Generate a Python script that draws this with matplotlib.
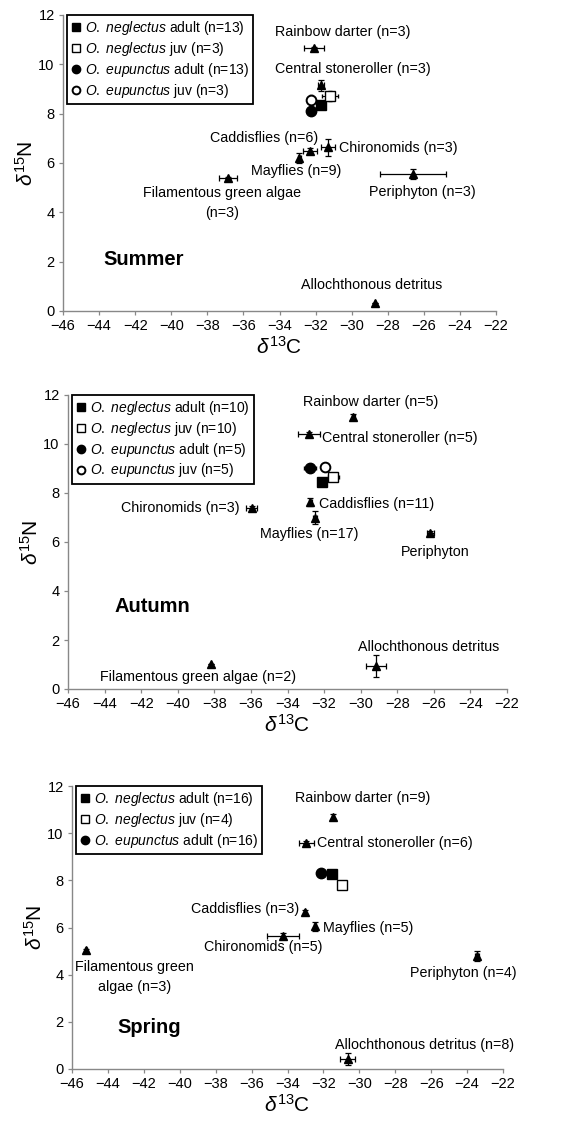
import matplotlib
matplotlib.use('Agg')
import matplotlib.pyplot as plt

plt.rcParams['font.family'] = ['Liberation Sans', 'DejaVu Sans']
plt.rcParams['mathtext.fontset'] = 'custom'
plt.rcParams['mathtext.rm'] = 'Liberation Sans'
plt.rcParams['mathtext.it'] = 'Liberation Sans:italic'

# prey / source items (delta13C, delta15N, errors)
summer_names = ['Rainbow darter', 'Central stoneroller', 'Caddisflies', 'Mayflies',
                'Chironomids', 'Filamentous green algae', 'Periphyton', 'Allochthonous detritus']
summer_x = [-32.1, -31.7, -32.3, -32.9, -31.3, -36.85, -26.6, -28.7]
summer_y = [10.65, 9.15, 6.5, 6.22, 6.63, 5.4, 5.55, 0.32]
summer_xerr = [0.55, 0.15, 0.4, 0.1, 0.4, 0.5, 1.85, 0.0]
summer_yerr = [0.05, 0.22, 0.1, 0.2, 0.35, 0.05, 0.2, 0.0]

autumn_names = ['Rainbow darter', 'Central stoneroller', 'Caddisflies', 'Mayflies',
                'Chironomids', 'Periphyton', 'Filamentous green algae', 'Allochthonous detritus']
autumn_x = [-30.4, -32.8, -32.75, -32.5, -35.95, -26.2, -38.2, -29.15]
autumn_y = [11.1, 10.4, 7.63, 7.0, 7.38, 6.35, 1.02, 0.95]
autumn_xerr = [0.1, 0.6, 0.1, 0.1, 0.3, 0.2, 0.0, 0.55]
autumn_yerr = [0.12, 0.1, 0.15, 0.25, 0.1, 0.1, 0.0, 0.45]

spring_names = ['Rainbow darter', 'Central stoneroller', 'Caddisflies', 'Mayflies',
                'Chironomids', 'Filamentous green algae', 'Periphyton', 'Allochthonous detritus']
spring_x = [-31.45, -32.95, -33.05, -32.45, -34.25, -45.2, -23.45, -30.65]
spring_y = [10.7, 9.6, 6.65, 6.05, 5.65, 5.03, 4.8, 0.44]
spring_xerr = [0.05, 0.4, 0.05, 0.05, 0.9, 0.05, 0.1, 0.4]
spring_yerr = [0.1, 0.05, 0.1, 0.2, 0.1, 0.05, 0.2, 0.25]

# fish: neglectus adult, neglectus juv, eupunctus adult, eupunctus juv
summer_fish_x = [-31.7, -31.2, -32.27, -32.27]
summer_fish_y = [8.37, 8.71, 8.12, 8.57]
summer_fish_xerr = [0.15, 0.44, 0.1, 0.15]
summer_fish_yerr = [0.1, 0.2, 0.1, 0.2]
summer_n = [13, 3, 13, 3]

autumn_fish_x = [-32.13, -31.5, -32.77, -31.95]
autumn_fish_y = [8.45, 8.65, 9.03, 9.08]
autumn_fish_xerr = [0.1, 0.3, 0.35, 0.15]
autumn_fish_yerr = [0.1, 0.15, 0.1, 0.15]
autumn_n = [10, 10, 5, 5]

spring_fish_x = [-31.52, -30.97, -32.13]
spring_fish_y = [8.25, 7.79, 8.32]
spring_fish_xerr = [0.1, 0.15, 0.1]
spring_fish_yerr = [0.1, 0.15, 0.1]
spring_n = [16, 4, 16]

fish_groups = [r'$\it{O.\ neglectus}$ adult', r'$\it{O.\ neglectus}$ juv',
               r'$\it{O.\ eupunctus}$ adult', r'$\it{O.\ eupunctus}$ juv']

# text labels: (text, x, y, ha)
summer_labels = [('Rainbow darter (n=3)', -30.5, 11.3, 'center'),
                 ('Central stoneroller (n=3)', -29.95, 9.8, 'center'),
                 ('Caddisflies (n=6)', -34.85, 7.0, 'center'),
                 ('Chironomids (n=3)', -30.7, 6.62, 'left'),
                 ('Mayflies (n=9)', -33.1, 5.67, 'center'),
                 ('Filamentous green algae', -37.2, 4.8, 'center'),
                 ('(n=3)', -37.2, 3.97, 'center'),
                 ('Periphyton (n=3)', -26.1, 4.82, 'center'),
                 ('Allochthonous detritus', -28.87, 1.06, 'center')]
autumn_labels = [('Rainbow darter (n=5)', -29.45, 11.72, 'center'),
                 ('Central stoneroller (n=5)', -32.1, 10.25, 'left'),
                 ('Chironomids (n=3)', -36.6, 7.38, 'right'),
                 ('Caddisflies (n=11)', -32.3, 7.56, 'left'),
                 ('Mayflies (n=17)', -32.8, 6.32, 'center'),
                 ('Periphyton', -25.9, 5.6, 'center'),
                 ('Allochthonous detritus', -26.3, 1.7, 'center'),
                 ('Filamentous green algae (n=2)', -38.9, 0.49, 'center')]
spring_labels = [('Rainbow darter (n=9)', -29.8, 11.48, 'center'),
                 ('Central stoneroller (n=6)', -32.35, 9.57, 'left'),
                 ('Caddisflies (n=3)', -33.35, 6.79, 'right'),
                 ('Mayflies (n=5)', -32.0, 5.97, 'left'),
                 ('Chironomids (n=5)', -35.33, 5.19, 'center'),
                 ('Filamentous green', -42.5, 4.33, 'center'),
                 ('algae (n=3)', -42.5, 3.48, 'center'),
                 ('Periphyton (n=4)', -24.2, 4.09, 'center'),
                 ('Allochthonous detritus (n=8)', -26.35, 1.0, 'center')]

W, H = 565, 1127
fig = plt.figure(figsize=(W / 100, H / 100), dpi=100)

fish_style = [dict(marker='s', mfc='black', mec='black', ms=7.5),
              dict(marker='s', mfc='white', mec='black', ms=7.5, mew=1.0),
              dict(marker='o', mfc='black', mec='black', ms=7.5),
              dict(marker='o', mfc='white', mec='black', ms=7, mew=1.4)]


def panel(box, x, y, xerr, yerr, labels, fx, fy, fxe, fye, n, season, season_xy):
    l, r, t, b = box
    ax = fig.add_axes([l / W, 1 - b / H, (r - l) / W, (b - t) / H])
    ax.errorbar(x, y, xerr=xerr, yerr=yerr, fmt='^', color='black', ms=5.5,
                elinewidth=0.9, capsize=2, capthick=0.9)
    handles = []
    for i in range(len(fx)):
        ax.errorbar(fx[i], fy[i], xerr=fxe[i], yerr=fye[i], fmt='none', ecolor='black',
                    elinewidth=0.8, capsize=1.5, zorder=3)
        h, = ax.plot(fx[i], fy[i], ls='none', zorder=4,
                     label='%s (n=%d)' % (fish_groups[i], n[i]), **fish_style[i])
        handles.append(h)
    for txt, tx, ty, ha in labels:
        ax.text(tx, ty, txt, ha=ha, va='center', fontsize=10.3)
    ax.text(season_xy[0], season_xy[1], season, fontsize=14.5, fontweight='bold',
            ha='left', va='center')
    ax.set_xlim(-46, -22)
    ax.set_ylim(0, 12)
    ax.set_xticks(range(-46, -21, 2))
    ax.set_yticks(range(0, 13, 2))
    ax.tick_params(labelsize=10.5, length=3, color='#888888', width=0.9, pad=3)
    for s in ['top', 'right']:
        ax.spines[s].set_visible(False)
    for s in ['left', 'bottom']:
        ax.spines[s].set_color('#888888')
        ax.spines[s].set_linewidth(1.0)
    ax.set_xlabel(r'$\delta^{13}$C', fontsize=15, labelpad=2)
    ax.set_ylabel(r'$\delta^{15}$N', fontsize=15, labelpad=1)
    leg = ax.legend(handles=handles, loc='upper left', bbox_to_anchor=(0.01, 1.0),
                    borderaxespad=0, fontsize=10, handlelength=0.6, handletextpad=0.35,
                    labelspacing=0.2, borderpad=0.3, fancybox=False, framealpha=1,
                    edgecolor='black', markerscale=0.8)
    leg.get_frame().set_linewidth(1.3)
    return ax


panel((63, 496, 15, 311), summer_x, summer_y, summer_xerr, summer_yerr, summer_labels,
      summer_fish_x, summer_fish_y, summer_fish_xerr, summer_fish_yerr, summer_n,
      'Summer', (-43.75, 2.1))
panel((68, 507, 395, 689), autumn_x, autumn_y, autumn_xerr, autumn_yerr, autumn_labels,
      autumn_fish_x, autumn_fish_y, autumn_fish_xerr, autumn_fish_yerr, autumn_n,
      'Autumn', (-43.45, 3.35))
panel((72, 503, 786, 1069), spring_x, spring_y, spring_xerr, spring_yerr, spring_labels,
      spring_fish_x, spring_fish_y, spring_fish_xerr, spring_fish_yerr, spring_n,
      'Spring', (-43.5, 1.74))

fig.savefig('out.png', dpi=100)
plt.close(fig)
